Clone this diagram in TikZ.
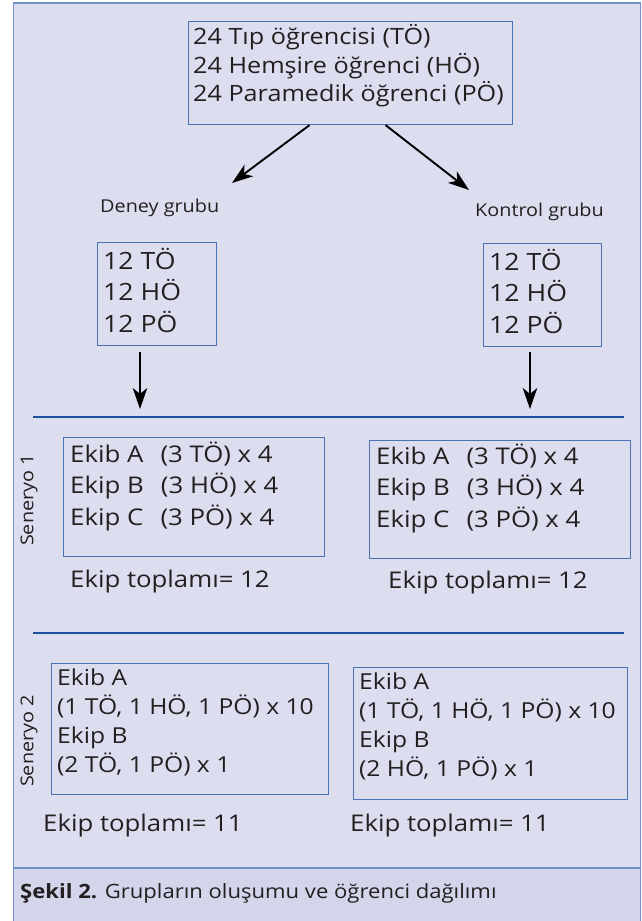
\documentclass[tikz,border=0pt]{standalone}
\usepackage{fontspec}
\setmainfont{Open Sans}[FakeStretch=1.12]
\usetikzlibrary{arrows.meta}

\definecolor{panelbg}{HTML}{DCDDEF}
\definecolor{captionbg}{HTML}{D3D5EB}
\definecolor{frameblue}{HTML}{7090C8}
\definecolor{boxblue}{HTML}{4A72B5}
\definecolor{ruleblue}{HTML}{1D4F9E}
\definecolor{ink}{HTML}{231F20}

\tikzset{
  box/.style={draw=boxblue, line width=1.1pt, inner sep=0pt, anchor=north west},
  txt/.style={text=ink, align=left, inner sep=0pt, anchor=west},
  bigtxt/.style={txt, font=\fontsize{22.5}{28.5}\selectfont},
  grouptxt/.style={txt, font=\fontsize{23.8}{31.5}\selectfont},
  midtxt/.style={txt, font=\fontsize{23}{31.5}\selectfont},
  smalltxt/.style={txt, font=\fontsize{22}{29}\selectfont},
  labeltxt/.style={txt, font=\fontsize{17.7}{21}\selectfont},
  flow/.style={draw=black, line width=1.9pt, -{Stealth[length=21pt,width=14.5pt,inset=6pt]}},
  sectionrule/.style={draw=ruleblue, line width=2.6pt},
}

\begin{document}
\begin{tikzpicture}[x=1pt, y=-1pt]
  \useasboundingbox (0,0) rectangle (642,921);

  % panel and caption band
  \fill[panelbg] (13.5,3) rectangle (640.5,868);
  \fill[captionbg] (13.5,868) rectangle (640.5,921);
  \draw[frameblue, line width=1.2pt] (13.5,921) -- (13.5,3) -- (640.5,3) -- (640.5,921);
  \draw[frameblue, line width=2.6pt] (13.5,868) -- (640.5,868);

  % student pool
  \node[box, minimum width=324pt, minimum height=103pt] (pool) at (188,21) {};
  \node[bigtxt] (pooltxt) at (193,66) {24 Tıp öğrencisi (TÖ)\\24 Hemşire öğrenci (HÖ)\\24 Paramedik öğrenci (PÖ)};

  % group labels
  \node[labeltxt] (deney) at (100,208) {Deney grubu};
  \node[labeltxt] (kontrol) at (475,212) {Kontrol grubu};
  \coordinate (deneytip) at (232,183);
  \coordinate (kontroltip) at (469,190);
  \draw[flow] ([xshift=-41pt]pool.south) -- (deneytip);
  \draw[flow] ([xshift=35pt]pool.south) -- (kontroltip);

  % group boxes
  \node[box, minimum width=119pt, minimum height=103pt] (gl) at (97,242) {};
  \node[grouptxt] (gltxt) at (103,290) {12 TÖ\\12 HÖ\\12 PÖ};
  \node[box, minimum width=118pt, minimum height=103pt] (gr) at (483,243) {};
  \node[grouptxt] (grtxt) at (489,291) {12 TÖ\\12 HÖ\\12 PÖ};

  \coordinate (gltip) at (140,409);
  \coordinate (grtip) at (530,409);
  \draw[flow] (gl.south -| gltip) ++(0,6) -- (gltip);
  \draw[flow] (gr.south -| grtip) ++(0,5) -- (grtip);

  % scenario separators
  \coordinate (r1a) at (33,417);
  \coordinate (r1b) at (624,417);
  \draw[sectionrule] (r1a) -- (r1b);
  \coordinate (r2a) at (33,633);
  \coordinate (r2b) at (624,633);
  \draw[sectionrule] (r2a) -- (r2b);

  % scenario 1
  \node[labeltxt, rotate=90, anchor=center] (sen1) at (29,500) {Seneryo 1};
  \node[box, minimum width=261pt, minimum height=119pt] (s1l) at (63,437) {};
  \node[midtxt] (s1ltxt) at (70,486) {Ekib A\hspace{0.75em}(3 TÖ) x 4\\Ekip B\hspace{0.75em}(3 HÖ) x 4\\Ekip C\hspace{0.75em}(3 PÖ) x 4};
  \node[box, minimum width=261pt, minimum height=118pt] (s1r) at (369,440) {};
  \node[midtxt] (s1rtxt) at (376,488) {Ekib A\hspace{0.75em}(3 TÖ) x 4\\Ekip B\hspace{0.75em}(3 HÖ) x 4\\Ekip C\hspace{0.75em}(3 PÖ) x 4};
  \node[midtxt] (tot1l) at (70,582) {Ekip toplamı= 12};
  \node[midtxt] (tot1r) at (388,583) {Ekip toplamı= 12};

  % scenario 2
  \node[labeltxt, rotate=90, anchor=center] (sen2) at (29,741) {Seneryo 2};
  \node[box, minimum width=277pt, minimum height=131pt] (s2l) at (51,663) {};
  \node[smalltxt] (s2ltxt) at (57,722) {Ekib A\\(1 TÖ, 1 HÖ, 1 PÖ) x 10\\Ekip B\\(2 TÖ, 1 PÖ) x 1};
  \node[box, minimum width=274pt, minimum height=132pt] (s2r) at (353,667) {};
  \node[smalltxt] (s2rtxt) at (359,726) {Ekib A\\(1 TÖ, 1 HÖ, 1 PÖ) x 10\\Ekip B\\(2 HÖ, 1 PÖ) x 1};
  \node[midtxt] (tot2l) at (43,826) {Ekip toplamı= 11};
  \node[midtxt] (tot2r) at (350,826) {Ekip toplamı= 11};

  % caption
  \node[txt, font=\fontsize{19.7}{23}\selectfont] (caption) at (20,893) {\textbf{Şekil 2.} Grupların oluşumu ve öğrenci dağılımı};
\end{tikzpicture}
\end{document}
